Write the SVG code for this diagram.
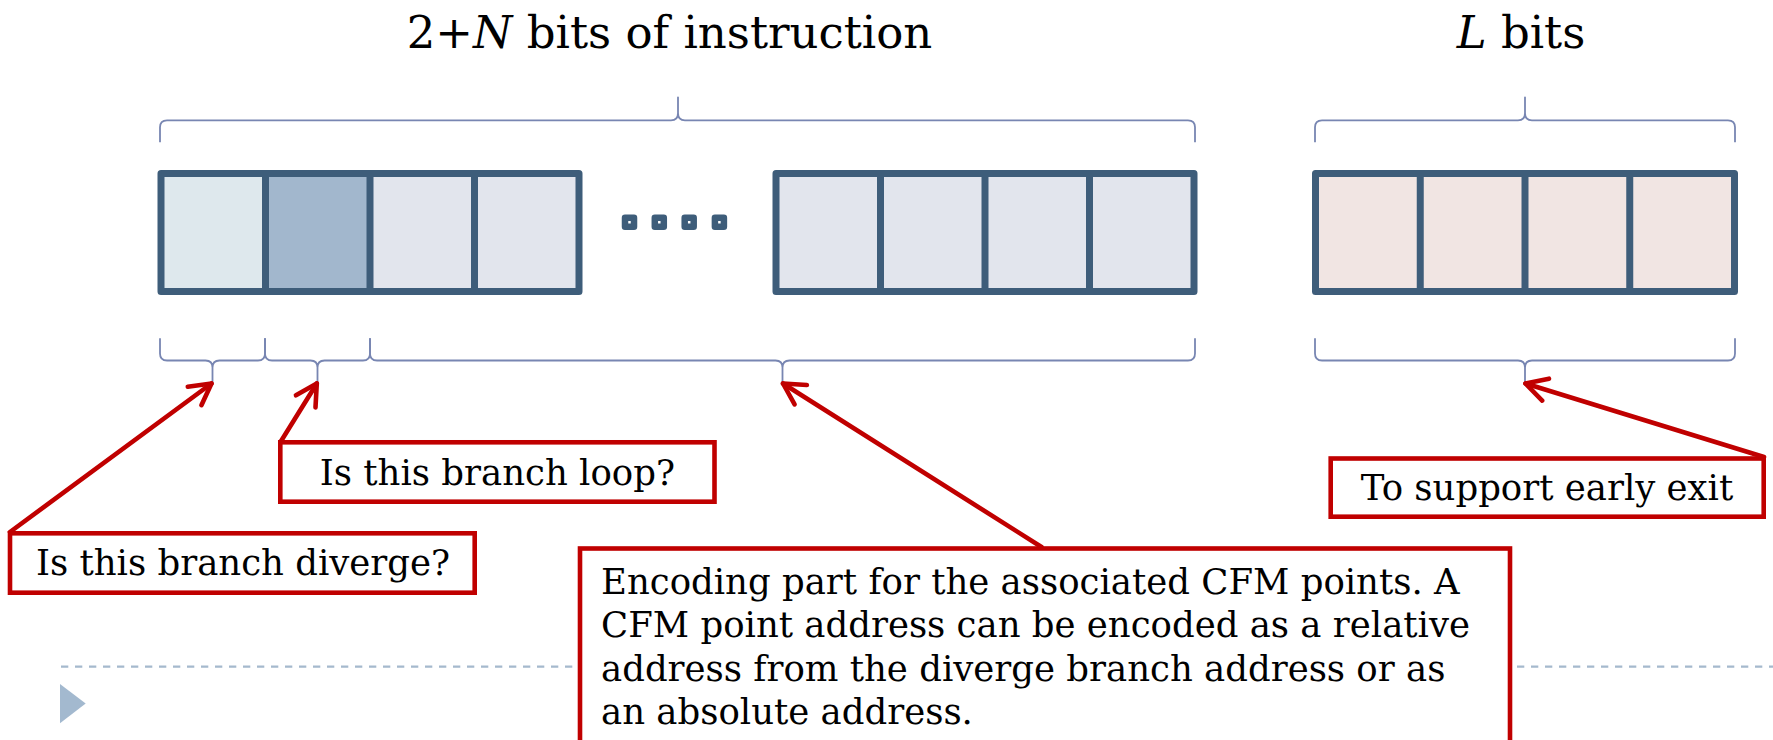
<svg xmlns="http://www.w3.org/2000/svg" width="1773" height="740" viewBox="0 0 1773 740">
<style>
.title{font-family:"DejaVu Serif","Liberation Serif",serif;font-size:45px;fill:#000}
.lbl{font-family:"DejaVu Serif","Liberation Serif",serif;font-size:35.5px;fill:#000}
.frame{fill:none;stroke:#3e5d7a;stroke-width:7;stroke-linejoin:round}
.div{stroke:#3e5d7a;stroke-width:7}
.brace{fill:none;stroke:#7886b2;stroke-width:1.8;stroke-linejoin:round}
.box{fill:#fff;stroke:#c00000;stroke-width:4.6}
.conn{fill:none;stroke:#c00000;stroke-width:4.6;stroke-linecap:round}
.dot{fill:#fff;stroke:#3e5d7a;stroke-width:6.5;stroke-linejoin:round}
.c1{fill:#dee8ed}.c2{fill:#a2b7cd}.c3{fill:#e2e5ed}.c4{fill:#f1e5e3}
</style>
<defs>
<marker id="ah" markerUnits="userSpaceOnUse" markerWidth="40" markerHeight="40" viewBox="-30 -20 40 40" refX="0" refY="0" orient="auto">
<path d="M-21,-11.5 L0,0 L-21,11.5" fill="none" stroke="#c00000" stroke-width="4.6" stroke-linecap="round" stroke-linejoin="round"/>
</marker>
</defs>
<rect width="1773" height="740" fill="#fff"/>

<g id="footer">
<line x1="61" y1="666.7" x2="1773" y2="666.7" stroke="#a5b9cd" stroke-width="2.2" stroke-dasharray="7.3 6.7"/>
<path d="M60,684 L85.7,703.5 L60,723.3 Z" fill="#a3b9cf"/>
</g>

<g id="titles">
<text class="title" x="406.7" y="48.3">2+<tspan font-style="italic">N</tspan> bits of instruction</text>
<text class="title" x="1456.7" y="47.7"><tspan font-style="italic">L</tspan> bits</text>
</g>

<g id="braces">
<path class="brace" d="M160,142.3 L160,127.3 Q160,120.3 167,120.3 L671,120.3 Q678,120.3 678,113.3 L678,97.3 L678,113.3 Q678,120.3 685,120.3 L1188,120.3 Q1195,120.3 1195,127.3 L1195,142.3"/>
<path class="brace" d="M1315,142.3 L1315,127.3 Q1315,120.3 1322,120.3 L1518,120.3 Q1525,120.3 1525,113.3 L1525,97.3 L1525,113.3 Q1525,120.3 1532,120.3 L1728,120.3 Q1735,120.3 1735,127.3 L1735,142.3"/>
<path class="brace" d="M160,338.3 L160,353.5 Q160,360.5 167,360.5 L205.5,360.5 Q212.5,360.5 212.5,367.5 L212.5,382.7 L212.5,367.5 Q212.5,360.5 219.5,360.5 L258,360.5 Q265,360.5 265,353.5 L265,338.3"/>
<path class="brace" d="M265,338.3 L265,353.5 Q265,360.5 272,360.5 L310.5,360.5 Q317.5,360.5 317.5,367.5 L317.5,382.7 L317.5,367.5 Q317.5,360.5 324.5,360.5 L363,360.5 Q370,360.5 370,353.5 L370,338.3"/>
<path class="brace" d="M370,338.3 L370,353.5 Q370,360.5 377,360.5 L775.5,360.5 Q782.5,360.5 782.5,367.5 L782.5,382.7 L782.5,367.5 Q782.5,360.5 789.5,360.5 L1188,360.5 Q1195,360.5 1195,353.5 L1195,338.3"/>
<path class="brace" d="M1315,338.3 L1315,353.5 Q1315,360.5 1322,360.5 L1518,360.5 Q1525,360.5 1525,367.5 L1525,382.7 L1525,367.5 Q1525,360.5 1532,360.5 L1728,360.5 Q1735,360.5 1735,353.5 L1735,338.3"/>
</g>

<g id="instr-left">
<rect class="c1" x="161" y="173.5" width="104.5" height="118"/>
<rect class="c2" x="265.5" y="173.5" width="104.5" height="118"/>
<rect class="c3" x="370" y="173.5" width="209" height="118"/>
<line class="div" x1="265.5" y1="173.5" x2="265.5" y2="291.5"/>
<line class="div" x1="370" y1="173.5" x2="370" y2="291.5"/>
<line class="div" x1="474.5" y1="173.5" x2="474.5" y2="291.5"/>
<rect class="frame" x="161" y="173.5" width="418" height="118"/>
</g>

<g id="ellipsis">
<rect class="dot" x="625" y="217.8" width="9" height="9"/>
<rect class="dot" x="654.8" y="217.8" width="9" height="9"/>
<rect class="dot" x="684.7" y="217.8" width="9" height="9"/>
<rect class="dot" x="714.9" y="217.8" width="9" height="9"/>
</g>

<g id="instr-right">
<rect class="c3" x="776" y="173.5" width="418" height="118"/>
<line class="div" x1="880.5" y1="173.5" x2="880.5" y2="291.5"/>
<line class="div" x1="985" y1="173.5" x2="985" y2="291.5"/>
<line class="div" x1="1089.5" y1="173.5" x2="1089.5" y2="291.5"/>
<rect class="frame" x="776" y="173.5" width="418" height="118"/>
</g>

<g id="lbits">
<rect class="c4" x="1315.5" y="173.5" width="419" height="118"/>
<line class="div" x1="1420.25" y1="173.5" x2="1420.25" y2="291.5"/>
<line class="div" x1="1525" y1="173.5" x2="1525" y2="291.5"/>
<line class="div" x1="1629.75" y1="173.5" x2="1629.75" y2="291.5"/>
<rect class="frame" x="1315.5" y="173.5" width="419" height="118"/>
</g>

<g id="connectors">
<path class="conn" d="M10,532 L211.5,383.5" marker-end="url(#ah)"/>
<path class="conn" d="M280.5,442 L316.8,383.5" marker-end="url(#ah)"/>
<path class="conn" d="M1041.5,547 L783,383.5" marker-end="url(#ah)"/>
<path class="conn" d="M1764,457 L1525.5,383.5" marker-end="url(#ah)"/>
</g>

<g id="box-loop">
<rect class="box" x="280.3" y="442.3" width="434.2" height="59.4"/>
<text class="lbl" x="497.4" y="485" text-anchor="middle">Is this branch loop?</text>
</g>

<g id="box-diverge">
<rect class="box" x="10" y="533.3" width="464.7" height="59.4"/>
<text class="lbl" x="243" y="575" text-anchor="middle">Is this branch diverge?</text>
</g>

<g id="box-exit">
<rect class="box" x="1330.7" y="458.5" width="433" height="58.2"/>
<text class="lbl" x="1547" y="500" text-anchor="middle">To support early exit</text>
</g>

<g id="box-encoding">
<rect class="box" x="580" y="548.5" width="930" height="260"/>
<text class="lbl" x="601" y="593.5">Encoding part for the associated CFM points. A</text>
<text class="lbl" x="601" y="637">CFM point address can be encoded as a relative</text>
<text class="lbl" x="601" y="680.5">address from the diverge branch address or as</text>
<text class="lbl" x="601" y="724">an absolute address.</text>
</g>
</svg>
